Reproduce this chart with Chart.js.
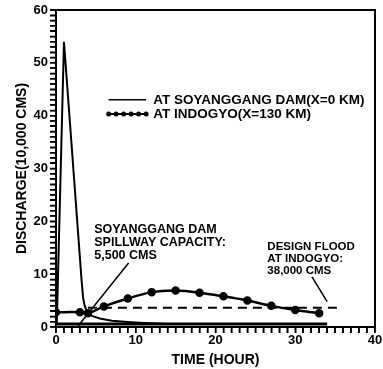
<!DOCTYPE html>
<html>
<head>
<meta charset="utf-8">
<title>Discharge hydrograph</title>
<script src="https://cdn.jsdelivr.net/npm/chart.js@4.4.1/dist/chart.umd.min.js"></script>
<style>
  html, body { margin: 0; padding: 0; background: #fff; }
  #wrap { width: 383px; height: 369px; }
</style>
</head>
<body>
<div id="wrap"><canvas id="hydro"></canvas></div>
<script>
// discharge in units of 10,000 CMS, time in hours
var damTime      = [0.1, 1.0, 3.2, 3.4, 3.6, 3.9, 4.5, 5.5, 7, 9, 11, 14];
var damFlow      = [0.6, 54, 9, 5.5, 4, 2.8, 2.1, 1.6, 1.2, 0.95, 0.75, 0.55];
var indogyoTime  = [0, 3, 4, 6, 9, 12, 15, 18, 21, 24, 27, 30, 33];
var indogyoFlow  = [2.8, 2.8, 2.6, 3.9, 5.4, 6.6, 6.9, 6.5, 5.8, 5.0, 4.0, 3.2, 2.6];
var spillwayTime = [0, 34];
var spillwayFlow = [0.55, 0.55];
var designTime   = [4, 35.5];
var designFlow   = [3.65, 3.65];

var xTicks = [0, 10, 20, 30, 40];
var yTicks = [0, 10, 20, 30, 40, 50, 60];

var legendLabels = ['AT SOYANGGANG DAM(X=0 KM)', 'AT INDOGYO(X=130 KM)'];
var spillwayNote = ['SOYANGGANG DAM', 'SPILLWAY CAPACITY:', '5,500 CMS'];
var designNote   = ['DESIGN FLOOD', 'AT INDOGYO:', '38,000 CMS'];

function pairs(xs, ys) {
  return xs.map(function (x, i) { return {x: x, y: ys[i]}; });
}

var FONT = '"Liberation Sans", Arial, sans-serif';

// minor/major tick marks outside both axes, one per scale tick
var tickMarks = {
  id: 'tickMarks',
  afterDraw: function (chart) {
    var ctx = chart.ctx, a = chart.chartArea;
    var xs = chart.scales.x, ys = chart.scales.y;
    ctx.save();
    ctx.setLineDash([]);
    ctx.strokeStyle = '#000';
    ctx.lineWidth = 1.5;
    ctx.beginPath();
    xs.ticks.forEach(function (t) {
      var x = xs.getPixelForValue(t.value);
      ctx.moveTo(x, a.bottom);
      ctx.lineTo(x, a.bottom + 6);
    });
    ys.ticks.forEach(function (t) {
      var y = ys.getPixelForValue(t.value);
      ctx.moveTo(a.left, y);
      ctx.lineTo(a.left - 6, y);
    });
    ctx.stroke();
    ctx.restore();
  }
};

// frame, legend, notes and pointer lines, all placed in data units
var extras = {
  id: 'extras',
  afterDraw: function (chart) {
    var ctx = chart.ctx, a = chart.chartArea;
    var xs = chart.scales.x, ys = chart.scales.y;
    function px(t) { return xs.getPixelForValue(t); }
    function py(v) { return ys.getPixelForValue(v); }

    ctx.save();
    ctx.setLineDash([]);
    ctx.strokeStyle = '#000';
    ctx.fillStyle = '#000';

    // top and right frame
    ctx.lineWidth = 2;
    ctx.beginPath();
    ctx.moveTo(a.left, a.top);
    ctx.lineTo(a.right, a.top);
    ctx.lineTo(a.right, a.bottom);
    ctx.stroke();

    // legend
    ctx.font = 'bold 13.5px ' + FONT;
    ctx.textBaseline = 'middle';
    var ly = [43, 40.3];
    ctx.lineWidth = 1.5;
    ctx.beginPath();
    ctx.moveTo(px(6.6), py(ly[0]));
    ctx.lineTo(px(11.3), py(ly[0]));
    ctx.stroke();
    ctx.lineWidth = 2;
    ctx.beginPath();
    ctx.moveTo(px(6.6), py(ly[1]));
    ctx.lineTo(px(11.3), py(ly[1]));
    ctx.stroke();
    for (var i = 0; i < 6; i++) {
      ctx.beginPath();
      ctx.arc(px(6.6 + i * 4.7 / 5), py(ly[1]), 2.5, 0, Math.PI * 2);
      ctx.fill();
    }
    ctx.fillText(legendLabels[0], px(12.2), py(ly[0]));
    ctx.fillText(legendLabels[1], px(12.2), py(ly[1]));

    // notes
    ctx.font = 'bold 12.5px ' + FONT;
    var n1 = [18.4, 16.0, 13.6];
    spillwayNote.forEach(function (s, k) { ctx.fillText(s, px(4.8), py(n1[k])); });
    ctx.font = 'bold 11.5px ' + FONT;
    var n2 = [15.2, 12.9, 10.6];
    designNote.forEach(function (s, k) { ctx.fillText(s, px(26.5), py(n2[k])); });

    // pointer lines
    ctx.lineWidth = 1.5;
    ctx.beginPath();
    ctx.moveTo(px(9.1), py(12.1));
    ctx.lineTo(px(2.8), py(0.25));
    ctx.moveTo(px(32.1), py(9.5));
    ctx.lineTo(px(34.0), py(4.8));
    ctx.stroke();
    ctx.restore();
  }
};

var chart = new Chart(document.getElementById('hydro'), {
  type: 'scatter',
  data: {
    datasets: [
      {
        label: legendLabels[0],
        data: pairs(damTime, damFlow),
        showLine: true,
        borderColor: '#000',
        borderWidth: 2,
        pointRadius: 0,
        tension: 0
      },
      {
        label: legendLabels[1],
        data: pairs(indogyoTime, indogyoFlow),
        showLine: true,
        borderColor: '#000',
        backgroundColor: '#000',
        borderWidth: 2.5,
        pointRadius: 3,
        tension: 0.3
      },
      {
        label: 'spillway capacity',
        data: pairs(spillwayTime, spillwayFlow),
        showLine: true,
        borderColor: '#000',
        borderWidth: 3,
        pointRadius: 0
      },
      {
        label: 'design flood',
        data: pairs(designTime, designFlow),
        showLine: true,
        borderColor: '#000',
        borderWidth: 2,
        borderDash: [9, 6],
        pointRadius: 0
      }
    ]
  },
  options: {
    responsive: true,
    maintainAspectRatio: false,
    animation: false,
    layout: { padding: { top: 10, right: 8, left: 0, bottom: 0 } },
    plugins: {
      legend: { display: false },
      tooltip: { enabled: false }
    },
    scales: {
      x: {
        min: xTicks[0],
        max: xTicks[xTicks.length - 1],
        afterFit: function (s) { s.height = 42; },
        border: { color: '#000', width: 2 },
        grid: { drawOnChartArea: false, color: '#000', lineWidth: 1.5, tickLength: 6 },
        ticks: {
          stepSize: 1,
          maxTicksLimit: 100,
          autoSkip: false,
          maxRotation: 0,
          padding: 0,
          color: '#000',
          font: { family: FONT, size: 13, weight: 'bold' },
          callback: function (v) { return xTicks.indexOf(v) >= 0 ? v : ''; }
        },
        title: {
          display: true,
          text: 'TIME (HOUR)',
          color: '#000',
          padding: { top: 5, bottom: 0 },
          font: { family: FONT, size: 14, weight: 'bold' }
        }
      },
      y: {
        min: yTicks[0],
        max: yTicks[yTicks.length - 1],
        afterFit: function (s) { s.width = 56; },
        border: { color: '#000', width: 2 },
        grid: { drawOnChartArea: false, color: '#000', lineWidth: 1.5, tickLength: 6 },
        ticks: {
          stepSize: 1,
          maxTicksLimit: 100,
          autoSkip: false,
          padding: 2,
          color: '#000',
          font: { family: FONT, size: 13, weight: 'bold' },
          callback: function (v) { return yTicks.indexOf(v) >= 0 ? v : ''; }
        },
        title: {
          display: true,
          text: 'DISCHARGE(10,000 CMS)',
          color: '#000',
          padding: { top: 14, bottom: 0 },
          font: { family: FONT, size: 14, weight: 'bold' }
        }
      }
    }
  },
  plugins: [tickMarks, extras]
});
</script>
</body>
</html>
